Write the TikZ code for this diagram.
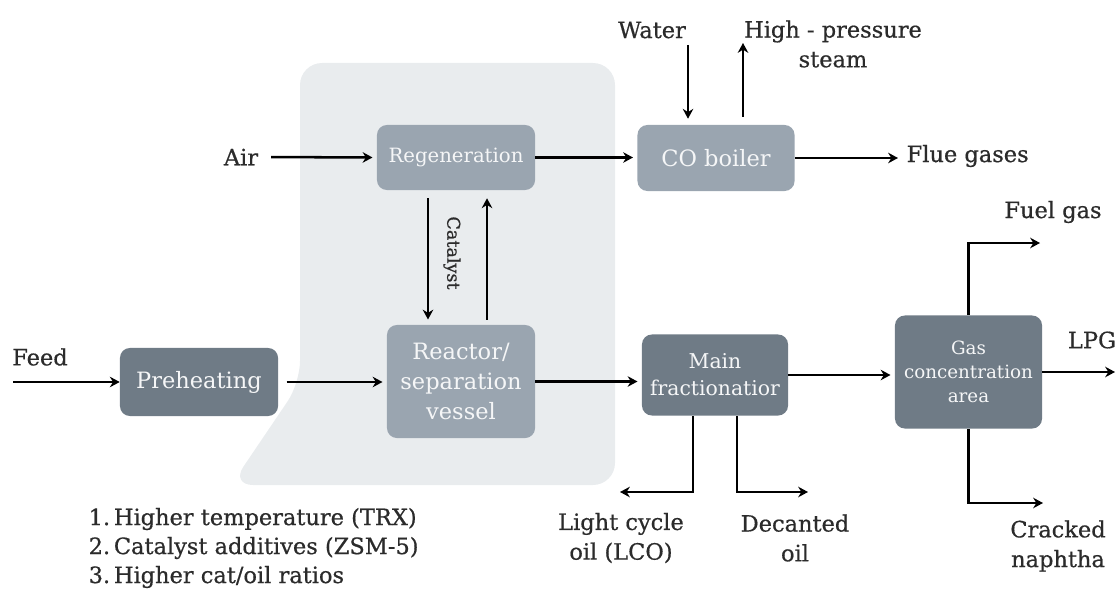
\documentclass[tikz,border=0pt]{standalone}
\usepackage{fontspec}
\setmainfont{DejaVu Serif}
\newfontfamily\heavyserif[FakeBold=0.6]{DejaVu Serif}
\usepackage{xcolor}
\usepackage{tikz}
\usetikzlibrary{arrows.meta, positioning, calc}
\definecolor{panelgrey}{HTML}{E9ECEE}
\definecolor{unitlight}{HTML}{9AA5B0}
\definecolor{unitdark}{HTML}{6F7B86}
\definecolor{streamtext}{HTML}{2B2B2B}
\newcommand{\fs}[1]{\fontsize{#1}{1.32\dimexpr#1pt\relax}\selectfont}

\begin{document}
\begin{tikzpicture}[x=0.025cm, y=-0.025cm,
    flow/.style={line width=1.8pt, -{Stealth[length=7pt, width=7.5pt]}},
    unit/.style={rounded corners=7pt, text=white!90!unitlight, align=center,
        inner sep=2pt, font=\fs{16}},
    lightunit/.style={unit, fill=unitlight},
    darkunit/.style={unit, fill=unitdark},
    stream/.style={text=streamtext, align=center, inner sep=1pt, font=\heavyserif\fs{16}}]
    \useasboundingbox (0,0) rectangle (1116,591);

    % Reactor-regenerator section
    \fill[panelgrey, rounded corners=0.55cm]
        (300,383) -- (300,63) -- (615,63) -- (615,485) -- (231,485) -- cycle;

    % Units
    \node[darkunit, minimum width=3.95cm, minimum height=1.7cm] (preheat) at (199,382) {Preheating};
    \node[lightunit, minimum width=3.95cm, minimum height=1.625cm, font=\fs{14}] (regen) at (456,157.5) {Regeneration};
    \node[lightunit, minimum width=3.7cm, minimum height=2.825cm] (reactor) at (461,381.5) {Reactor/\\separation\\vessel};
    \node[lightunit, minimum width=3.925cm, minimum height=1.65cm] (coboiler) at (716,158) {CO boiler};
    \node[darkunit, minimum width=3.65cm, minimum height=2.025cm, font=\fs{14.5}] (mainfrac) at (715,375) {Main\\fractionatior};
    \node[darkunit, minimum width=3.675cm, minimum height=2.825cm, font=\fs{13}] (gasconc) at (968.5,372) {Gas\\concentration\\area};

    % Streams in and out
    \node[stream] (feed) at (40,357) {Feed};
    \node[stream] (air) at (241,157) {Air};
    \node[stream] (water) at (652,30) {Water};
    \node[stream] (steam) at (833,44) {High - pressure\\steam};
    \node[stream, anchor=west] (flue) at (905,156) {Flue gases};
    \node[stream] (fuel) at (1053,212) {Fuel gas};
    \node[stream] (lpg) at (1092,340) {LPG};
    \node[stream] (lco) at (621,538) {Light cycle\\oil (LCO)};
    \node[stream] (decant) at (795,538) {Decanted\\oil};
    \node[stream] (naphtha) at (1058,546) {Cracked\\naphtha};
    \node[stream, rotate=-90, font=\heavyserif\fs{12.5}] (cat) at (452,253) {Catalyst};

    \coordinate (feedin) at (13,382);
    \coordinate (waterin) at (688,45);
    \coordinate (steamout) at (743,43);
    \coordinate (fuelout) at (1040,243);
    \coordinate (lpgout) at (1115,372);
    \coordinate (lcoout) at (620,492);
    \coordinate (decantout) at (808,492);
    \coordinate (naphout) at (1043,503);

    % Main line
    \draw[flow] (feedin) -- (preheat.west);
    \draw[flow, shorten <=6pt, shorten >=3pt] (preheat.east) -- (reactor.west |- preheat.east);
    \draw[flow, shorten >=3pt] (reactor.east) -- (reactor.east -| mainfrac.west);
    \draw[flow, shorten >=3pt] (mainfrac.east) -- (mainfrac.east -| gasconc.west);
    \draw[flow] (gasconc.east) -- (gasconc.east -| lpgout);
    \draw[flow] (gasconc.north) |- (fuelout);
    \draw[flow] (gasconc.south) |- (naphout);
    \draw[flow] ([xshift=-0.55cm]mainfrac.south) |- (lcoout);
    \draw[flow] ([xshift=0.55cm]mainfrac.south) |- (decantout);

    % Regeneration loop
    \draw[flow, shorten <=8pt, shorten >=3pt] (air.east) -- (regen.west);
    \draw[flow, shorten >=3pt] (regen.east) -- (regen.east -| coboiler.west);
    \draw[flow, shorten >=5pt] (coboiler.east) -- (coboiler.east -| flue.west);
    \draw[flow, shorten <=0.2cm, shorten >=0.13cm] ([xshift=-0.7cm]regen.south) -- ([xshift=-0.7cm]regen.south |- reactor.north);
    \draw[flow, shorten <=0.13cm, shorten >=0.2cm] ([xshift=0.775cm]regen.south |- reactor.north) -- ([xshift=0.775cm]regen.south);
    \draw[flow, shorten >=0.15cm] (waterin) -- (waterin |- coboiler.north);
    \draw[flow, shorten <=0.2cm] (steamout |- coboiler.north) -- (steamout);

    % Ways to raise propylene yield
    \node[stream, anchor=west, align=left, font=\heavyserif\fontsize{16}{20.6}\selectfont] (levers) at (87,548)
        {1.\,Higher temperature (TRX)\\2.\,Catalyst additives (ZSM-5)\\3.\,Higher cat/oil ratios};
\end{tikzpicture}
\end{document}
